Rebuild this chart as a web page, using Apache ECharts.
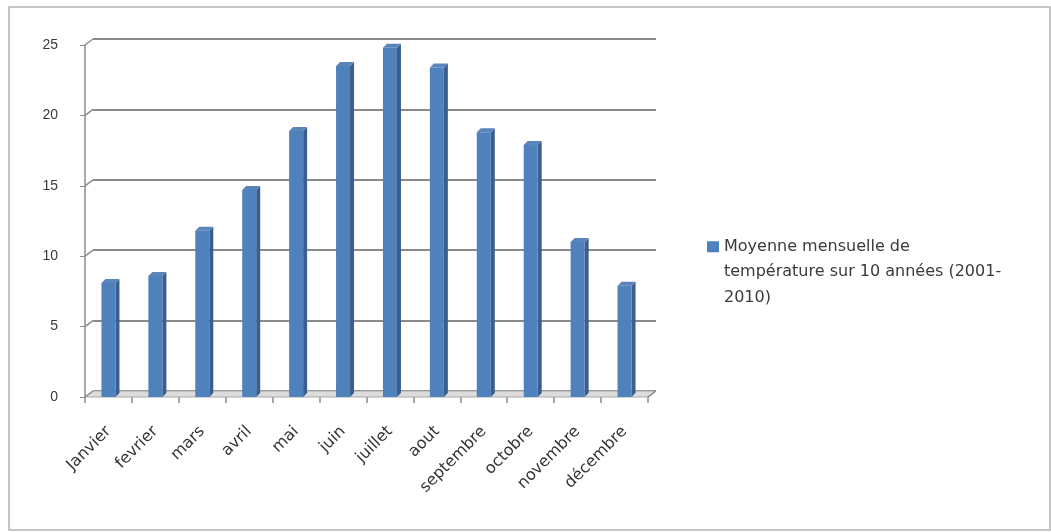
<!DOCTYPE html>
<html>
<head>
<meta charset="utf-8">
<script src="https://cdn.jsdelivr.net/npm/echarts@6/dist/echarts.min.js"></script>
<style>html,body{margin:0;padding:0;background:#fff}#c{width:1051px;height:532px}</style>
</head>
<body>
<div id="c"></div>
<script>
const categories = ['Janvier','fevrier','mars','avril','mai','juin','juillet','aout','septembre','octobre','novembre','décembre'];
const temperatures = [8.1, 8.6, 11.8, 14.7, 18.9, 23.5, 24.8, 23.4, 18.8, 17.9, 11.0, 7.9];
const yTicks = [0, 5, 10, 15, 20, 25];
const seriesName = 'Moyenne mensuelle de température sur 10 années (2001-2010)';
const legendLines = ['Moyenne mensuelle de', 'température sur 10 années (2001-', '2010)'];

const DX = 8, DY = 6; // 3D depth offset
const FONT = 'Liberation Sans';
const FONT2 = 'DejaVu Sans';

const chart = echarts.init(document.getElementById('c'), null, {renderer: 'canvas'});

const option = {
  backgroundColor: '#fff',
  animation: false,
  textStyle: {fontFamily: FONT},
  grid: [
    {left: 85, top: 45, width: 563, height: 352},
    {left: 85 + DX, top: 45 - DY, width: 563, height: 352}
  ],
  xAxis: [
    {
      type: 'category', gridIndex: 0, data: categories,
      axisLine: {show: false},
      axisTick: {show: true, length: 6, alignWithLabel: false, lineStyle: {color: '#8c8c8c', width: 1.5}},
      axisLabel: {rotate: 45, fontSize: 16, color: '#333', margin: 32, fontFamily: FONT2, interval: 0}
    },
    {type: 'category', gridIndex: 1, data: categories, show: false}
  ],
  yAxis: [
    {
      type: 'value', gridIndex: 0, min: 0, max: 25, interval: 5,
      axisLine: {show: true, lineStyle: {color: '#8c8c8c', width: 1.5}},
      axisTick: {show: true, length: 5, lineStyle: {color: '#8c8c8c'}},
      splitLine: {show: false},
      axisLabel: {fontSize: 14, color: '#3a3a3a', margin: 27, fontFamily: FONT}
    },
    {
      type: 'value', gridIndex: 1, min: 0, max: 25, interval: 5,
      axisLine: {show: false}, axisTick: {show: false}, axisLabel: {show: false},
      splitLine: {show: true, lineStyle: {color: '#8a8a8a', width: 2}}
    }
  ],
  legend: {
    left: 707, top: 234, padding: 0,
    data: [seriesName],
    icon: 'path://M0,0L12,0L12,11L0,11Z M0,62L0.01,62',
    itemWidth: 12, itemHeight: 62, itemGap: 0,
    itemStyle: {borderWidth: 0},
    formatter: () => legendLines.join('\n'),
    textStyle: {fontSize: 16, color: '#3a3a3a', lineHeight: 25.5, fontFamily: FONT2}
  },
  graphic: [
    {type: 'rect', shape: {x: 9, y: 7, width: 1041, height: 523}, style: {fill: 'none', stroke: '#b3b3b3', lineWidth: 1.5}, silent: true}
  ],
  series: [
    {
      type: 'custom', name: 'decor', xAxisIndex: 0, yAxisIndex: 0, silent: true, z: 1,
      data: [0],
      renderItem: function (params, api) {
        const cs = params.coordSys;
        const base = api.coord([0, 0])[1];
        const children = [];
        children.push({type: 'polygon', shape: {points: [[cs.x, base], [cs.x + cs.width, base], [cs.x + cs.width + DX, base - DY], [cs.x + DX, base - DY]]},
          style: {fill: '#dcdcdc', stroke: '#a8a8a8', lineWidth: 1}});
        yTicks.forEach(function (t) {
          const y = api.coord([0, t])[1];
          children.push({type: 'line', shape: {x1: cs.x, y1: y, x2: cs.x + DX, y2: y - DY}, style: {stroke: '#8c8c8c', lineWidth: 1.5}});
        });
        children.push({type: 'line', shape: {x1: cs.x + cs.width, y1: base, x2: cs.x + cs.width + DX, y2: base - DY}, style: {stroke: '#8c8c8c', lineWidth: 1.5}});
        return {type: 'group', children: children};
      }
    },
    {
      type: 'custom', name: seriesName, xAxisIndex: 0, yAxisIndex: 0, z: 3,
      itemStyle: {color: '#4F81BD'},
      data: temperatures.map((v, i) => [i, v]),
      encode: {x: 0, y: 1},
      renderItem: function (params, api) {
        const i = api.value(0), v = api.value(1);
        const top = api.coord([i, v]);
        const base = api.coord([i, 0]);
        const bw = 14, d = 4, dy = 4;
        const left = top[0] - bw / 2;
        const t = top[1], b = base[1];
        return {type: 'group', children: [
          {type: 'polygon', shape: {points: [[left + bw, t], [left + bw + d, t - dy], [left + bw + d, b - dy], [left + bw, b]]}, style: {fill: '#3A5F8E'}},
          {type: 'polygon', shape: {points: [[left, t], [left + d, t - dy], [left + bw + d, t - dy], [left + bw, t]]}, style: {fill: '#5B84B9'}},
          {type: 'rect', shape: {x: left, y: t, width: bw, height: b - t}, style: {fill: '#4F81BD'}}
        ]};
      }
    }
  ]
};
chart.setOption(option);
</script>
</body>
</html>
